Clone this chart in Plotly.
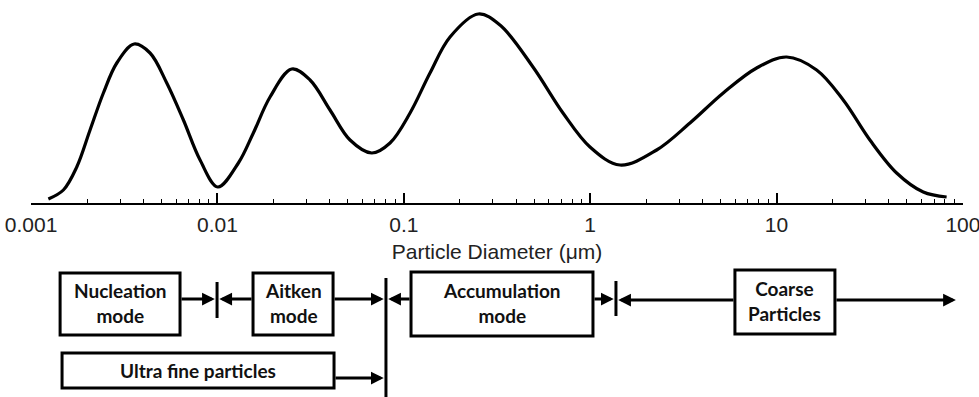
import numpy as np
import plotly.graph_objects as go

# ---- data ----
diameter_um = [0.001238, 0.001490, 0.001758, 0.002072, 0.002443, 0.002883, 0.003570,
               0.004348, 0.005346, 0.006565, 0.008067, 0.01004, 0.01295, 0.01558,
               0.01915, 0.02504, 0.03139, 0.04018, 0.05145, 0.06727, 0.08433, 0.1080,
               0.1382, 0.1770, 0.2510, 0.3281, 0.4932, 0.7145, 0.9975, 1.445, 2.274,
               3.431, 5.176, 7.820, 11.33, 16.41, 22.80, 31.70, 44.10, 61.24, 81.76]
concentration = [4, 13, 36, 73, 110, 140, 159, 150, 120, 83, 43, 16, 40, 70, 106, 134,
                 123, 93, 63, 50, 60, 90, 130, 166, 189, 178, 136, 90, 56, 38, 53, 80,
                 110, 135, 146, 133, 103, 63, 30, 11, 6]

tick_values = [0.001, 0.01, 0.1, 1, 10, 100]
tick_labels = ["0.001", "0.01", "0.1", "1", "10", "100"]

# size-range boxes (µm)
mode_names = ["Nucleation<br>mode", "Aitken<br>mode", "Accumulation<br>mode", "Coarse<br>Particles"]
mode_lo = [0.001431, 0.01552, 0.1093, 5.98]
mode_hi = [0.006298, 0.04172, 1.035, 20.57]
ultra_name = "Ultra fine particles"
ultra_lo, ultra_hi = 0.001466, 0.04222
boundary_nuc_aitken = 0.00995
boundary_fine = 0.0802
boundary_coarse = 1.375
coarse_end = 91.7

L = np.log10

fig = go.Figure()
fig.add_trace(go.Scatter(
    x=diameter_um, y=concentration, mode="lines",
    line=dict(color="black", width=3.2, shape="spline", smoothing=1.0),
    xaxis="x", yaxis="y", showlegend=False, hoverinfo="skip"))
# invisible trace for the lower panel axes
fig.add_trace(go.Scatter(x=[-3], y=[300], mode="markers", marker=dict(opacity=0),
                         xaxis="x2", yaxis="y2", showlegend=False, hoverinfo="skip"))

split = 194 / 397
axis_font = dict(family="Liberation Sans, Arial", size=21, color="#222")
fig.update_layout(
    width=979, height=397,
    margin=dict(l=31, r=16, t=0, b=0),
    paper_bgcolor="white", plot_bgcolor="white",
    xaxis=dict(type="log", range=[-3.0005, 2.0005], domain=[0, 1], anchor="y",
               showgrid=False, zeroline=False,
               showline=True, linecolor="black", linewidth=1.5,
               ticks="inside", ticklen=10, tickwidth=1.5, tickcolor="black",
               tickvals=tick_values, ticktext=tick_labels,
               ticklabelstandoff=2, ticklabeloverflow="allow",
               tickfont=axis_font,
               minor=dict(ticks="inside", ticklen=4, tickwidth=1.2, tickcolor="black",
                          dtick="D1", showgrid=False),
               title=dict(text="Particle Diameter (μm)", standoff=9, font=axis_font)),
    yaxis=dict(range=[0, 203], domain=[split, 1], visible=False, fixedrange=True),
    xaxis2=dict(range=[-3.0005, 2.0005], domain=[0, 1], anchor="y2", visible=False),
    yaxis2=dict(range=[397, 203], domain=[0, split], visible=False),
)

shapes = []
ann = []
box_font = dict(family="Lato, Open Sans", size=19, color="#111")
LW = 3

def box(x0, x1, y0, y1):
    shapes.append(dict(type="rect", xref="x2", yref="y2", x0=L(x0), x1=L(x1), y0=y0, y1=y1,
                       line=dict(color="black", width=LW), fillcolor="white", layer="above"))

def vline(x, y0, y1):
    shapes.append(dict(type="line", xref="x2", yref="y2", x0=L(x), x1=L(x), y0=y0, y1=y1,
                       line=dict(color="black", width=LW), layer="above"))

def arrow(x_tail, x_tip, y):
    ann.append(dict(xref="x2", yref="y2", axref="x2", ayref="y2",
                    x=L(x_tip), y=y, ax=L(x_tail), ay=y, text="",
                    showarrow=True, arrowhead=2, arrowsize=0.85, arrowwidth=LW,
                    arrowcolor="black", standoff=0, startstandoff=0))

box_tops = [273, 273, 272, 270]
box_bots = [335, 335, 336, 334]
for name, lo, hi, t, b in zip(mode_names, mode_lo, mode_hi, box_tops, box_bots):
    box(lo, hi, t, b)
    ann.append(dict(xref="x2", yref="y2", x=(L(lo) + L(hi)) / 2, y=(t + b) / 2 - 1.5,
                    text="<b>" + name + "</b>", showarrow=False, font=box_font))
box(ultra_lo, ultra_hi, 353, 388)
ann.append(dict(xref="x2", yref="y2", x=(L(ultra_lo) + L(ultra_hi)) / 2, y=370,
                text="<b>" + ultra_name + "</b>", showarrow=False, font=box_font))

vline(boundary_nuc_aitken, 282, 318)
vline(boundary_fine, 278, 400)
vline(boundary_coarse, 281, 316)

arrow(mode_hi[0], 10 ** (L(boundary_nuc_aitken) - 0.012), 299)
arrow(mode_lo[1], 10 ** (L(boundary_nuc_aitken) + 0.012), 299)
arrow(mode_hi[1], 10 ** (L(boundary_fine) - 0.012), 299)
arrow(mode_lo[2], 10 ** (L(boundary_fine) + 0.012), 299)
arrow(mode_hi[2], 10 ** (L(boundary_coarse) - 0.012), 299)
arrow(mode_lo[3], 10 ** (L(boundary_coarse) + 0.012), 300)
arrow(mode_hi[3], coarse_end, 300)
arrow(ultra_hi, 10 ** (L(boundary_fine) - 0.012), 378)

fig.update_layout(shapes=shapes, annotations=ann)
fig.write_html("out.html")
